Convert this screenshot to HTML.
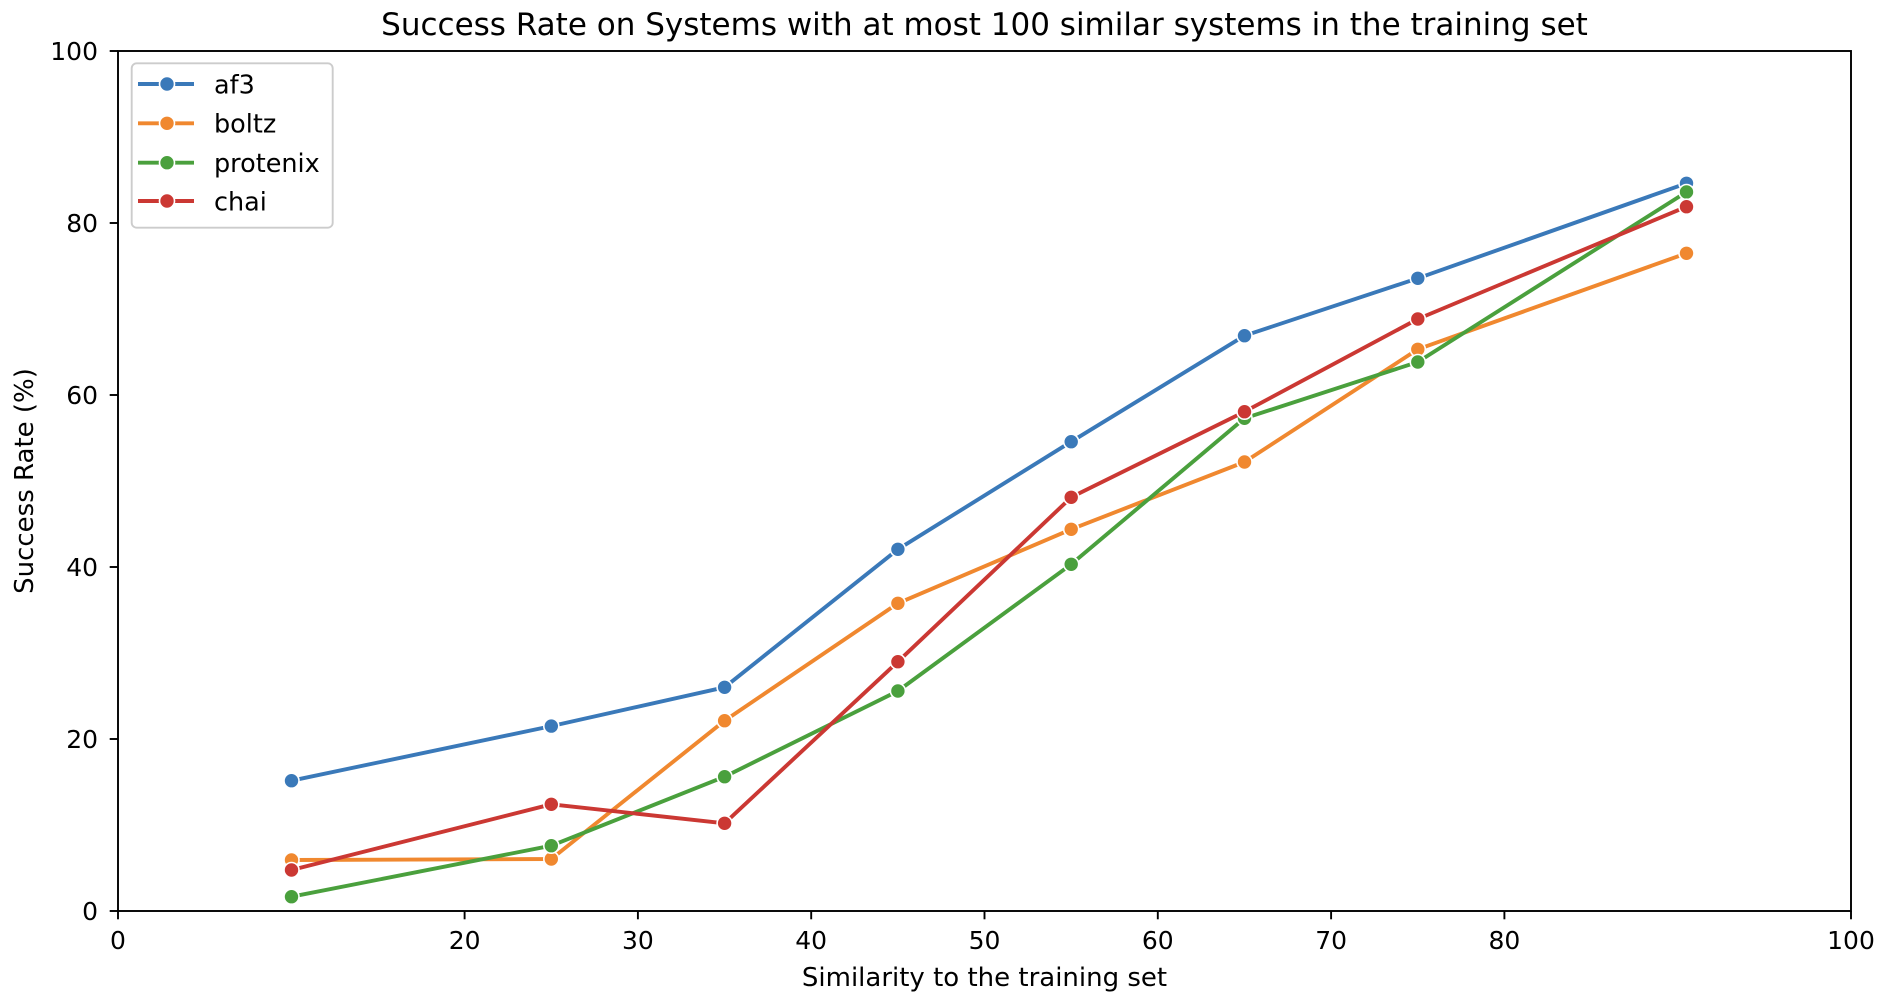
<!DOCTYPE html>
<html>
<head>
<meta charset="utf-8">
<style>
  html, body { margin: 0; padding: 0; background: #ffffff; }
  svg { display: block; }
  text { font-family: "DejaVu Sans", "Liberation Sans", sans-serif; fill: #000; }
</style>
</head>
<body>
<svg width="1882" height="996" viewBox="0 0 1882 996" xmlns="http://www.w3.org/2000/svg">
  <rect x="0" y="0" width="1882" height="996" fill="#ffffff"/>

  <!-- Title -->
  <text x="984.5" y="35" font-size="31" text-anchor="middle">Success Rate on Systems with at most 100 similar systems in the training set</text>

  <!-- Series -->
  <g fill="none" stroke-width="3.9" stroke-linejoin="round" stroke-linecap="round">
    <!-- af3 -->
    <polyline stroke="#3a79b9" points="291.5,780.7 551.3,726.1 724.6,687.3 897.9,549.3 1071.2,441.7 1244.5,335.7 1417.8,278.3 1686.5,183.3"/>
  </g>
  <g fill="#3a79b9" stroke="#ffffff" stroke-width="1.6">
    <circle cx="291.5" cy="780.7" r="7.5"/><circle cx="551.3" cy="726.1" r="7.5"/><circle cx="724.6" cy="687.3" r="7.5"/><circle cx="897.9" cy="549.3" r="7.5"/><circle cx="1071.2" cy="441.7" r="7.5"/><circle cx="1244.5" cy="335.7" r="7.5"/><circle cx="1417.8" cy="278.3" r="7.5"/><circle cx="1686.5" cy="183.3" r="7.5"/>
  </g>

  <g fill="none" stroke-width="3.9" stroke-linejoin="round" stroke-linecap="round">
    <!-- boltz -->
    <polyline stroke="#f0882f" points="291.5,860 551.3,859 724.6,720.7 897.9,603.3 1071.2,529.3 1244.5,462 1417.8,349.3 1686.5,253.3"/>
  </g>
  <g fill="#f0882f" stroke="#ffffff" stroke-width="1.6">
    <circle cx="291.5" cy="860" r="7.5"/><circle cx="551.3" cy="859" r="7.5"/><circle cx="724.6" cy="720.7" r="7.5"/><circle cx="897.9" cy="603.3" r="7.5"/><circle cx="1071.2" cy="529.3" r="7.5"/><circle cx="1244.5" cy="462" r="7.5"/><circle cx="1417.8" cy="349.3" r="7.5"/><circle cx="1686.5" cy="253.3" r="7.5"/>
  </g>

  <g fill="none" stroke-width="3.9" stroke-linejoin="round" stroke-linecap="round">
    <!-- protenix -->
    <polyline stroke="#4aa03d" points="291.5,896.7 551.3,845.7 724.6,776.7 897.9,691 1071.2,564.3 1244.5,418.3 1417.8,362 1686.5,192"/>
  </g>
  <g fill="#4aa03d" stroke="#ffffff" stroke-width="1.6">
    <circle cx="291.5" cy="896.7" r="7.5"/><circle cx="551.3" cy="845.7" r="7.5"/><circle cx="724.6" cy="776.7" r="7.5"/><circle cx="897.9" cy="691" r="7.5"/><circle cx="1071.2" cy="564.3" r="7.5"/><circle cx="1244.5" cy="418.3" r="7.5"/><circle cx="1417.8" cy="362" r="7.5"/><circle cx="1686.5" cy="192" r="7.5"/>
  </g>

  <g fill="none" stroke-width="3.9" stroke-linejoin="round" stroke-linecap="round">
    <!-- chai -->
    <polyline stroke="#cb3833" points="291.5,870 551.3,804.3 724.6,823.3 897.9,661.7 1071.2,497.3 1244.5,411.7 1417.8,319 1686.5,206.7"/>
  </g>
  <g fill="#cb3833" stroke="#ffffff" stroke-width="1.6">
    <circle cx="291.5" cy="870" r="7.5"/><circle cx="551.3" cy="804.3" r="7.5"/><circle cx="724.6" cy="823.3" r="7.5"/><circle cx="897.9" cy="661.7" r="7.5"/><circle cx="1071.2" cy="497.3" r="7.5"/><circle cx="1244.5" cy="411.7" r="7.5"/><circle cx="1417.8" cy="319" r="7.5"/><circle cx="1686.5" cy="206.7" r="7.5"/>
  </g>

  <!-- Axes frame -->
  <rect x="118" y="51" width="1733" height="860" fill="none" stroke="#000" stroke-width="1.9"/>

  <!-- Y ticks -->
  <g stroke="#000" stroke-width="1.9">
    <line x1="109.7" y1="911" x2="118" y2="911"/>
    <line x1="109.7" y1="739" x2="118" y2="739"/>
    <line x1="109.7" y1="567" x2="118" y2="567"/>
    <line x1="109.7" y1="395" x2="118" y2="395"/>
    <line x1="109.7" y1="223" x2="118" y2="223"/>
    <line x1="109.7" y1="51" x2="118" y2="51"/>
  </g>
  <g font-size="25" text-anchor="end">
    <text x="98" y="920">0</text>
    <text x="98" y="748">20</text>
    <text x="98" y="576">40</text>
    <text x="98" y="404">60</text>
    <text x="98" y="232">80</text>
    <text x="98" y="60">100</text>
  </g>

  <!-- X ticks -->
  <g stroke="#000" stroke-width="1.9">
    <line x1="118" y1="911" x2="118" y2="919.3"/>
    <line x1="464.6" y1="911" x2="464.6" y2="919.3"/>
    <line x1="637.9" y1="911" x2="637.9" y2="919.3"/>
    <line x1="811.2" y1="911" x2="811.2" y2="919.3"/>
    <line x1="984.5" y1="911" x2="984.5" y2="919.3"/>
    <line x1="1157.8" y1="911" x2="1157.8" y2="919.3"/>
    <line x1="1331.1" y1="911" x2="1331.1" y2="919.3"/>
    <line x1="1504.4" y1="911" x2="1504.4" y2="919.3"/>
    <line x1="1851" y1="911" x2="1851" y2="919.3"/>
  </g>
  <g font-size="25" text-anchor="middle">
    <text x="118" y="949">0</text>
    <text x="464.6" y="949">20</text>
    <text x="637.9" y="949">30</text>
    <text x="811.2" y="949">40</text>
    <text x="984.5" y="949">50</text>
    <text x="1157.8" y="949">60</text>
    <text x="1331.1" y="949">70</text>
    <text x="1504.4" y="949">80</text>
    <text x="1851" y="949">100</text>
  </g>

  <!-- Axis labels -->
  <text x="984.5" y="986" font-size="26" text-anchor="middle">Similarity to the training set</text>
  <text transform="translate(33,481) rotate(-90)" font-size="26" text-anchor="middle">Success Rate (%)</text>

  <!-- Legend -->
  <rect x="131.7" y="63.3" width="201" height="164.4" rx="5" ry="5" fill="#ffffff" fill-opacity="0.8" stroke="#cccccc" stroke-width="1.9"/>
  <g stroke-width="3.9">
    <line x1="138" y1="84" x2="194" y2="84" stroke="#3a79b9"/>
    <line x1="138" y1="123.3" x2="194" y2="123.3" stroke="#f0882f"/>
    <line x1="138" y1="162.7" x2="194" y2="162.7" stroke="#4aa03d"/>
    <line x1="138" y1="201" x2="194" y2="201" stroke="#cb3833"/>
  </g>
  <g stroke="#ffffff" stroke-width="1.6">
    <circle cx="167" cy="84" r="7.5" fill="#3a79b9"/>
    <circle cx="167" cy="123.3" r="7.5" fill="#f0882f"/>
    <circle cx="167" cy="162.7" r="7.5" fill="#4aa03d"/>
    <circle cx="167" cy="201" r="7.5" fill="#cb3833"/>
  </g>
  <g font-size="25.5">
    <text x="214" y="93.3">af3</text>
    <text x="214" y="132.6">boltz</text>
    <text x="214" y="172">protenix</text>
    <text x="214" y="210.5">chai</text>
  </g>
</svg>
</body>
</html>
